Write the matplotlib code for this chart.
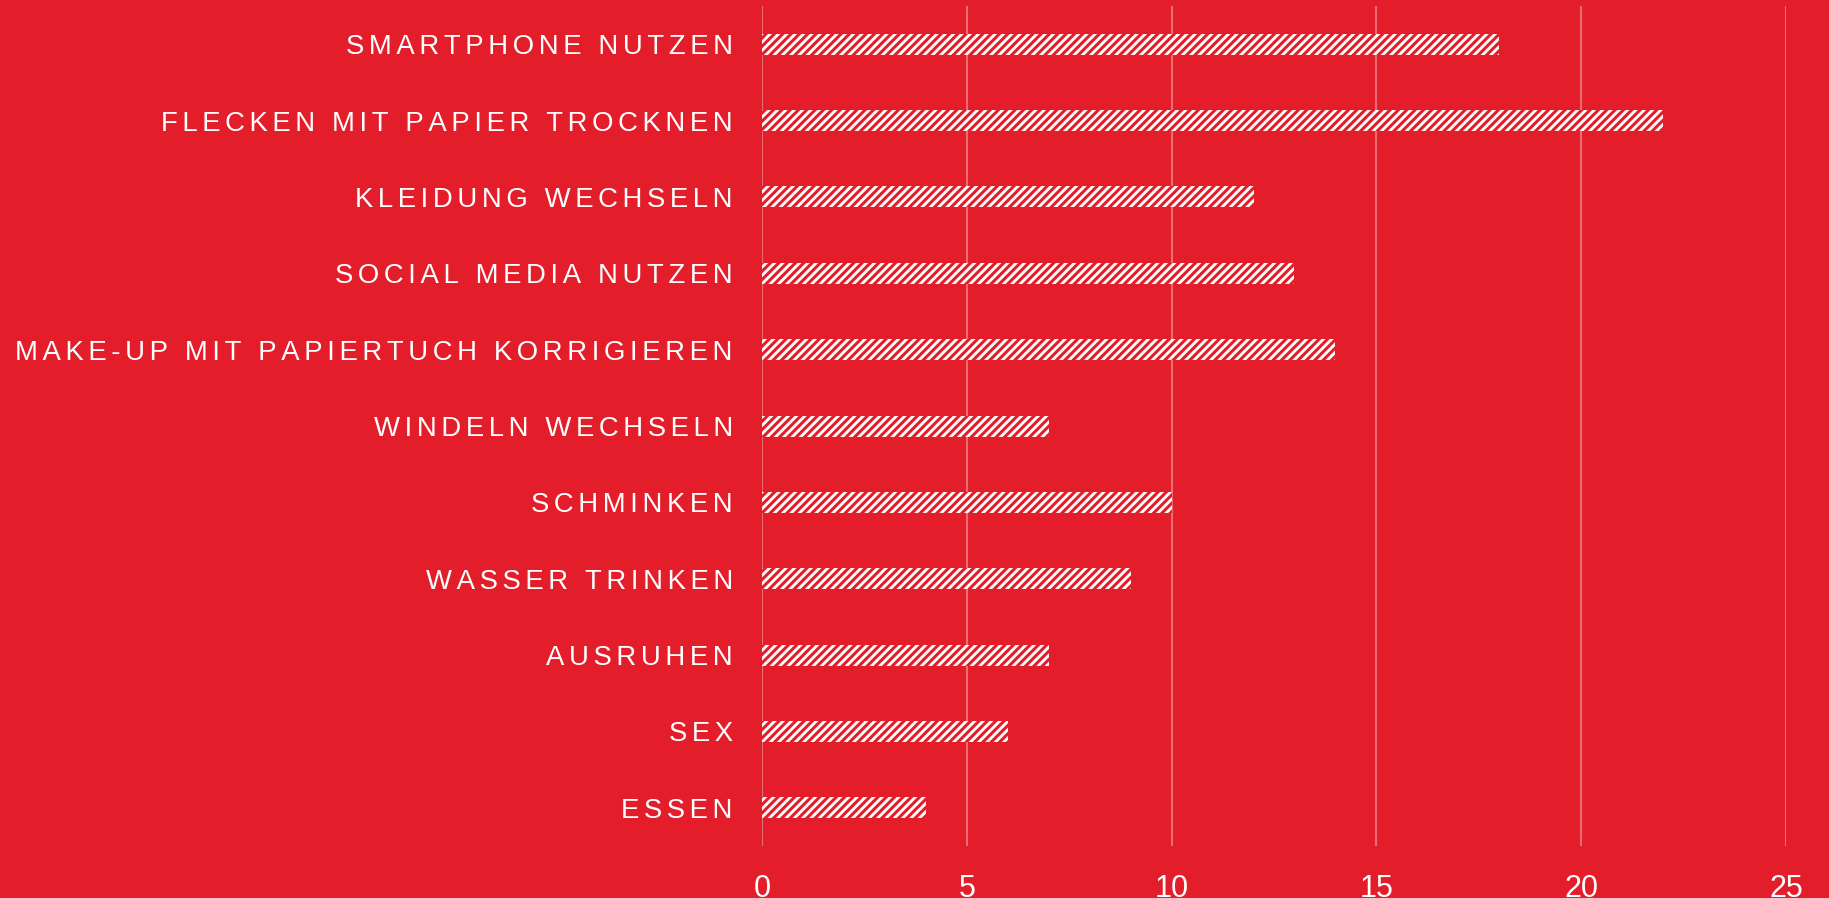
import matplotlib
matplotlib.use("Agg")
import matplotlib.pyplot as plt

# Daten (von oben nach unten)
labels = [
    "SMARTPHONE NUTZEN",
    "FLECKEN MIT PAPIER TROCKNEN",
    "KLEIDUNG WECHSELN",
    "SOCIAL MEDIA NUTZEN",
    "MAKE-UP MIT PAPIERTUCH KORRIGIEREN",
    "WINDELN WECHSELN",
    "SCHMINKEN",
    "WASSER TRINKEN",
    "AUSRUHEN",
    "SEX",
    "ESSEN",
]
values = [18, 22, 12, 13, 14, 7, 10, 9, 7, 6, 4]
xticks = [0, 5, 10, 15, 20, 25]

RED = "#E31E2A"


def spaced(s):
    # Sperrsatz wie im Original: Sechstelgeviert zwischen den Buchstaben
    return "\u2006".join(s)


plt.rcParams["font.family"] = ["Liberation Sans", "DejaVu Sans"]
plt.rcParams["hatch.linewidth"] = 2.2

fig = plt.figure(figsize=(18.29, 8.98), dpi=100, facecolor=RED)
ax = fig.add_axes([0.4166, 0.0579, 0.5599, 0.9354])
ax.set_facecolor(RED)

pos = list(range(len(labels)))
ax.barh(pos, values, height=0.275, color="white", edgecolor=RED,
        hatch="////", linewidth=0, zorder=3)

ax.set_ylim(len(labels) - 0.5, -0.5)
ax.set_xlim(0, 25)
ax.set_yticks(pos)
ax.set_yticklabels([spaced(l) for l in labels], fontsize=19.8, color="white")
ax.set_xticks(xticks)
ax.set_xticklabels([str(t) for t in xticks], fontsize=22, color="white")
ax.tick_params(axis="y", length=0, pad=21)
ax.tick_params(axis="x", length=0, pad=20.5)

ax.grid(axis="x", color="white", alpha=0.35, linewidth=1.5, zorder=0)
ax.grid(axis="y", visible=False)
for s in ax.spines.values():
    s.set_visible(False)

fig.savefig("out.png", dpi=100, facecolor=RED)
